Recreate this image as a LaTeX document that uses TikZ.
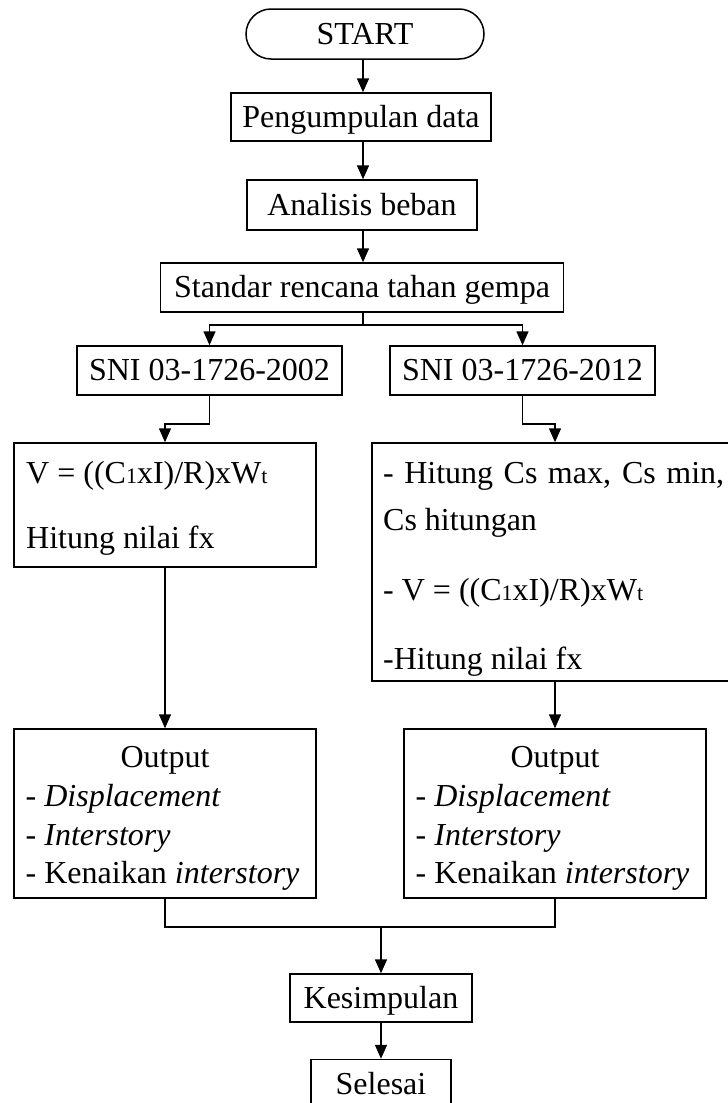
\documentclass[tikz,border=0pt]{standalone}
\usepackage{fontspec}
\setmainfont{Liberation Serif}
\usetikzlibrary{arrows.meta}
\newcommand{\smallidx}[1]{{\fontsize{22}{22}\selectfont #1}}
\tikzset{
  txt/.style={font=\fontsize{32}{38}\selectfont, inner sep=0pt},
  box/.style={draw, line width=1.5pt, inner sep=0pt, font=\fontsize{32}{38}\selectfont, text height=27pt, text depth=7pt},
  frame/.style={draw, line width=1.5pt, inner sep=0pt},
  arr/.style={line width=1.5pt, -{Triangle[length=14pt,width=12pt]}},
  ln/.style={line width=1.5pt},
}
\begin{document}
\begin{tikzpicture}[x=1pt,y=-1pt]
\useasboundingbox (0,0) rectangle (728,1103);
\clip (0,0) rectangle (728,1103);
% boxes
\node[box, rounded corners=25pt, minimum width=238pt, minimum height=50pt] (start) at (365,34) {START};
\node[box, minimum width=260pt, minimum height=48pt] (data) at (361,117) {Pengumpulan data};
\node[box, minimum width=230pt, minimum height=50pt] (beban) at (362,205) {Analisis beban};
\node[box, minimum width=403pt, minimum height=49pt] (std) at (362,287.5) {Standar rencana tahan gempa};
\node[box, minimum width=265pt, minimum height=49pt] (sniA) at (209.5,370.5) {SNI 03-1726-2002};
\node[box, minimum width=265pt, minimum height=49pt] (sniB) at (522.5,370.5) {SNI 03-1726-2012};
\node[frame, minimum width=302pt, minimum height=124pt] (fA) at (165,505) {};
\node[frame, minimum width=366pt, minimum height=238pt] (fB) at (555,562) {};
\node[frame, minimum width=302pt, minimum height=169pt] (oA) at (165,813.5) {};
\node[frame, minimum width=302pt, minimum height=169pt] (oB) at (555,813.5) {};
\node[box, minimum width=182pt, minimum height=48pt] (kes) at (381,998) {Kesimpulan};
\node[box, minimum width=140pt, minimum height=49pt] (sel) at (381,1084) {Selesai};
% texts in formula boxes
\node[txt, anchor=base west] (fA1) at (26,483) {V = ((C\smallidx{1}xI)/R)xW\smallidx{t}};
\node[txt, anchor=base west] (fA2) at (26,548) {Hitung nilai fx};
\node[txt, anchor=base west] (fB1) at (383,483) {\makebox[341pt][s]{- Hitung Cs max, Cs min,}};
\node[txt, anchor=base west] (fB2) at (383,530) {Cs hitungan};
\node[txt, anchor=base west] (fB3) at (383,600) {- V = ((C\smallidx{1}xI)/R)xW\smallidx{t}};
\node[txt, anchor=base west] (fB4) at (383,669) {-Hitung nilai fx};
% texts in output boxes
\node[txt, anchor=base] (oA0) at (165,767) {Output};
\node[txt, anchor=base west] (oA1) at (25.5,806) {- \textit{Displacement}};
\node[txt, anchor=base west] (oA2) at (25.5,845) {- \textit{Interstory}};
\node[txt, anchor=base west] (oA3) at (25.5,883) {- Kenaikan \textit{interstory}};
\node[txt, anchor=base] (oB0) at (555,767) {Output};
\node[txt, anchor=base west] (oB1) at (415.5,806) {- \textit{Displacement}};
\node[txt, anchor=base west] (oB2) at (415.5,845) {- \textit{Interstory}};
\node[txt, anchor=base west] (oB3) at (415.5,883) {- Kenaikan \textit{interstory}};
% connectors
\draw[arr] (start.south -| 363,0) -- (data.north -| 363,0);
\draw[arr] (data.south -| 363,0) -- (beban.north -| 363,0);
\draw[arr] (beban.south -| 363,0) -- (std.north -| 363,0);
\coordinate (br) at (363,325);
\draw[ln] (std.south -| br) -- (br);
\draw[arr] (br) -| (sniA.north);
\draw[arr] (br) -| (sniB.north);
\draw[arr] (sniA.south) -- ++(0,28) -| (fA.north);
\draw[arr] (sniB.south) -- ++(0,28) -| (fB.north);
\draw[arr] (fA.south) -- (oA.north);
\draw[arr] (fB.south) -- (oB.north);
\coordinate (m) at (381,927);
\draw[ln] (oA.south) |- (m);
\draw[ln] (oB.south) |- (m);
\draw[arr] (m) -- (kes.north);
\draw[arr] (kes.south) -- (sel.north);
\end{tikzpicture}
\end{document}
